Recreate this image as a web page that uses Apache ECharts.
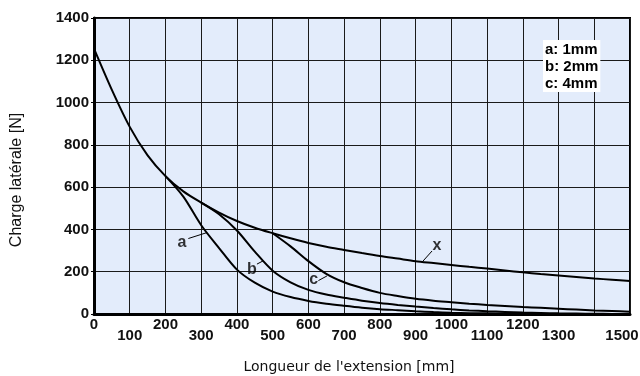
<!DOCTYPE html>
<html>
<head>
<meta charset="utf-8">
<script src="https://cdn.jsdelivr.net/npm/echarts@6/dist/echarts.min.js"></script>
<style>
  html, body { margin: 0; padding: 0; background: #fff; }
  #chart { width: 640px; height: 376px; }
</style>
</head>
<body>
<div id="chart"></div>
<script>
// Side load vs. extension length: envelope curve x and the deflection curves a, b, c
const curveX = [[0,1255],[50,1060],[100,885],[150,750],[200,652],[250,580],[300,527],[350,480],[400,440],[450,408],[500,382],[550,358],[600,336],[650,318],[700,303],[750,288],[800,274],[850,262],[900,250],[950,241],[1000,232],[1050,223],[1100,215],[1150,206],[1200,197],[1250,189],[1300,182],[1350,175],[1400,168],[1450,162],[1500,156]];
const curveA = [[200,652],[250,555],[300,420],[350,312],[400,210],[450,148],[500,106],[550,80],[600,62],[650,49],[700,39],[750,30],[800,23],[850,18],[900,13],[950,9],[1000,6],[1050,4],[1100,3],[1150,2],[1200,1],[1300,0],[1400,0],[1500,0]];
const curveB = [[300,527],[350,472],[400,395],[450,295],[500,205],[550,150],[600,114],[650,92],[700,77],[750,63],[800,52],[850,43],[900,35],[950,28],[1000,22],[1050,17],[1100,13],[1150,10],[1200,7],[1250,5],[1300,3],[1350,2],[1400,1],[1450,0.5],[1500,0]];
const curveC = [[500,382],[550,320],[600,250],[650,190],[700,150],[750,123],[800,100],[850,85],[900,72],[950,63],[1000,56],[1050,49],[1100,43],[1150,38],[1200,33],[1250,29],[1300,25],[1350,21],[1400,17],[1450,14],[1500,11]];

// Curve tags and their leader lines (data coordinates)
const tagNames = ['a', 'b', 'c', 'x'];
const tagPos = [[246,338],[442,210],[615,165],[960,322]];
const leaders = [
  [[264,357],[316,385]],
  [[456,236],[473,251]],
  [[628,158],[652,180]],
  [[946,298],[919,247]]
];

const legendLines = ['a: 1mm', 'b: 2mm', 'c: 4mm'];
const xTitle = "Longueur de l'extension [mm]";
const yTitle = 'Charge latérale [N]';

const chart = echarts.init(document.getElementById('chart'));

function curve(name, data) {
  return {
    name, type: 'line', data, smooth: 0.3,
    showSymbol: false, silent: true,
    lineStyle: { color: '#000', width: 2 }, z: 5
  };
}

const tickFont = { fontFamily: 'Arial', fontWeight: 700, fontSize: 15, color: '#111' };

chart.setOption({
  animation: false,
  grid: {
    left: 94, right: 10, top: 18, bottom: 62, outerBoundsMode: 'none',
    show: true, backgroundColor: '#E3ECFB', borderColor: '#000', borderWidth: 2
  },
  xAxis: {
    type: 'value', min: 0, max: 1500, interval: 100,
    axisLine: { show: true, lineStyle: { color: '#000', width: 3 } },
    axisTick: { show: false },
    splitLine: { show: true, lineStyle: { color: '#1a1a1a', width: 1 } },
    axisLabel: {
      margin: 3, showMaxLabel: true, showMinLabel: true, hideOverlap: false,
      formatter: v => {
        const s = String(v);
        if (v === 1500) return '{end|' + s + '}';
        return v % 200 === 0 ? '{hi|' + s + '}' : '{lo|' + s + '}';
      },
      rich: {
        hi: Object.assign({}, tickFont),
        lo: Object.assign({ padding: [11, 0, 0, 0] }, tickFont),
        end: Object.assign({ padding: [11, 16, 0, 0] }, tickFont)
      }
    }
  },
  yAxis: {
    type: 'value', min: 0, max: 1400, interval: 200,
    axisLine: { show: true, lineStyle: { color: '#000', width: 3 } },
    axisTick: { show: true, length: 3, lineStyle: { color: '#000' } },
    splitLine: { show: true, lineStyle: { color: '#1a1a1a', width: 1 } },
    axisLabel: Object.assign({ margin: 5, formatter: v => String(v) }, tickFont)
  },
  series: [
    curve('x', curveX),
    curve('a', curveA),
    curve('b', curveB),
    curve('c', curveC),
    {
      type: 'scatter', silent: true, symbolSize: 0, z: 6,
      data: tagPos.map((p, i) => ({ value: p, name: tagNames[i] })),
      label: {
        show: true, position: 'inside', formatter: p => p.name,
        fontFamily: 'Arial', fontWeight: 700, fontSize: 16, color: '#000'
      }
    },
    {
      type: 'line', data: [], silent: true,
      markLine: {
        silent: true, symbol: 'none', animation: false,
        lineStyle: { color: '#000', width: 1, type: 'solid' },
        label: { show: false },
        data: leaders.map(l => [{ coord: l[0] }, { coord: l[1] }])
      }
    }
  ],
  graphic: [
    {
      type: 'text', left: 543, top: 40, z: 10,
      style: {
        text: legendLines.join('\n'),
        fontFamily: 'Arial', fontWeight: 700, fontSize: 15, lineHeight: 17,
        fill: '#000', backgroundColor: '#fff', padding: [1, 2, 0, 2]
      }
    },
    {
      type: 'text', x: 17, y: 180, rotation: Math.PI / 2, z: 10,
      style: {
        text: yTitle, fontFamily: 'Arial', fontSize: 16, fill: '#111',
        align: 'center', verticalAlign: 'middle'
      }
    },
    {
      type: 'text', x: 349, y: 367, z: 10,
      style: {
        text: xTitle, fontFamily: 'DejaVu Sans', fontSize: 14, fill: '#111',
        align: 'center', verticalAlign: 'middle'
      }
    }
  ]
});
</script>
</body>
</html>
